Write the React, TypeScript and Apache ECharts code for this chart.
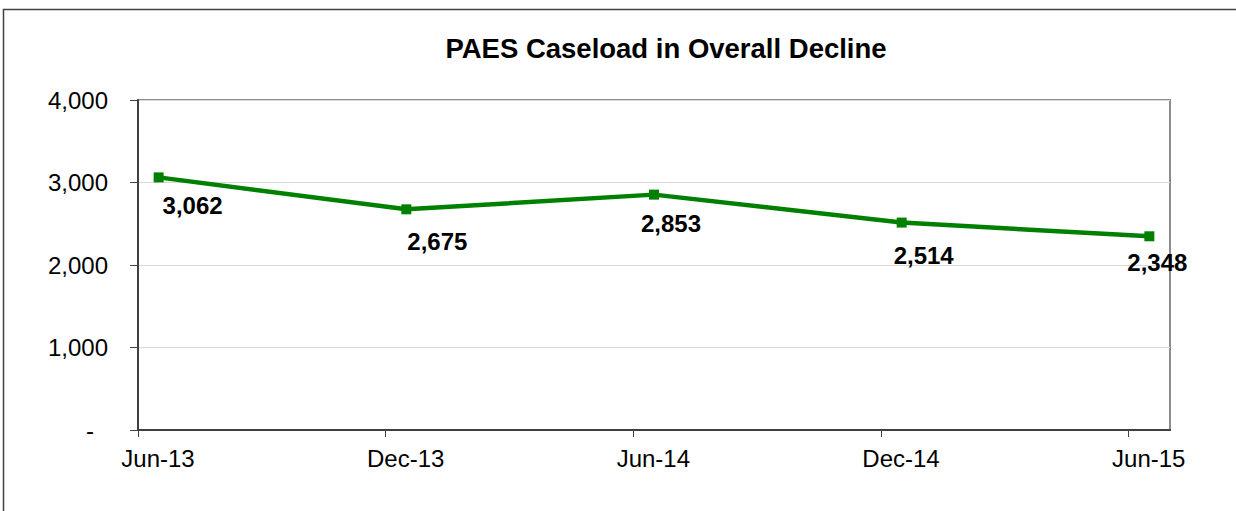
import React, { useEffect, useRef } from "react";
import * as echarts from "echarts";

const categories = ["Jun-13", "Dec-13", "Jun-14", "Dec-14", "Jun-15"];
const caseload = [3062, 2675, 2853, 2514, 2348];
const monthsPerCategory = 6;
const yTicks = [0, 1000, 2000, 3000, 4000];
const labelOffsets: [number, number][] = [
  [34, 28],
  [31, 32],
  [17, 29],
  [22, 33],
  [8, 26],
];

const FONT = "'Liberation Sans', Arial, sans-serif";
const fmt = (v: number) => v.toLocaleString("en-US");

export default function App() {
  const ref = useRef<HTMLDivElement>(null);
  useEffect(() => {
    document.body.style.margin = "0";
    const chart = echarts.init(ref.current!, null, { renderer: "svg" });
    const tickVals = categories.map((_, i) => i * monthsPerCategory);
    chart.setOption({
      animation: false,
      backgroundColor: "#ffffff",
      graphic: [
        {
          type: "rect",
          shape: { x: 3.5, y: 9.5, width: 1400, height: 700 },
          style: { fill: "none", stroke: "#404040", lineWidth: 1.5 },
          silent: true,
          z: -1,
        },
        {
          type: "text",
          x: 666,
          y: 48,
          style: {
            text: "PAES Caseload in Overall Decline",
            font: `bold 27.5px ${FONT}`,
            fill: "#000",
            align: "center",
            verticalAlign: "middle",
          },
        },
      ],
      grid: {
        left: 138,
        right: 66,
        top: 100,
        bottom: 81,
        show: true,
        borderColor: "#8c8c8c",
        borderWidth: 2,
      },
      xAxis: {
        type: "value",
        min: 0,
        max: categories.length * monthsPerCategory - 5,
        interval: monthsPerCategory,
        axisLine: { lineStyle: { color: "#404040", width: 2 } },
        axisTick: {
          show: true,
          length: 7,
          customValues: tickVals,
          lineStyle: { color: "#404040", width: 1 },
        },
        splitLine: { show: false },
        axisLabel: {
          customValues: tickVals,
          margin: 16,
          formatter: (v: number) => categories[Math.round(v / monthsPerCategory)] ?? "",
          color: "#000",
          fontSize: 24,
          fontFamily: FONT,
          padding: [0, 0, 0, 40],
        },
      },
      yAxis: {
        type: "value",
        min: yTicks[0],
        max: yTicks[yTicks.length - 1],
        interval: yTicks[1] - yTicks[0],
        axisLine: { show: true, lineStyle: { color: "#404040", width: 2 } },
        axisTick: { show: true, length: 8, lineStyle: { color: "#404040", width: 1 } },
        splitLine: { show: true, lineStyle: { color: "#d9d9d9", width: 1 } },
        axisLabel: {
          margin: 30,
          color: "#000",
          fontSize: 24,
          fontFamily: FONT,
          formatter: (v: number) => (v === 0 ? "{dash|-}" : fmt(v)),
          rich: {
            dash: { fontSize: 24, fontFamily: FONT, color: "#000", padding: [0, 14, 0, 0] },
          },
        },
      },
      series: [
        {
          type: "line",
          data: caseload.map((v, i) => ({
            value: [i * monthsPerCategory + 0.5, v],
            label: { offset: labelOffsets[i] },
          })),
          lineStyle: { color: "#008000", width: 4.5 },
          itemStyle: { color: "#008000" },
          symbol: "rect",
          symbolSize: 10,
          showAllSymbol: true,
          label: {
            show: true,
            position: "inside",
            formatter: (p: any) => fmt(p.value[1]),
            color: "#000",
            fontSize: 24,
            fontWeight: "bold",
            fontFamily: FONT,
          },
        },
      ],
    });
    return () => chart.dispose();
  }, []);
  return <div ref={ref} style={{ width: 1236, height: 511 }} />;
}
